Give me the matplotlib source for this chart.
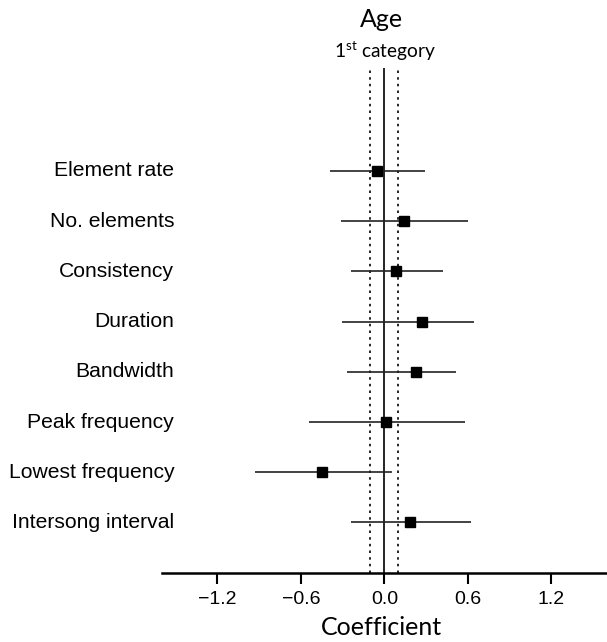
import numpy as np
import matplotlib
matplotlib.use("Agg")
import matplotlib.pyplot as plt

# traits, top to bottom
traits = [
    "Element rate",
    "No. elements",
    "Consistency",
    "Duration",
    "Bandwidth",
    "Peak frequency",
    "Lowest frequency",
    "Intersong interval",
]
coef = [-0.055, 0.138, 0.081, 0.267, 0.224, 0.014, -0.45, 0.186]
ci_low = [-0.394, -0.315, -0.242, -0.306, -0.27, -0.545, -0.93, -0.24]
ci_high = [0.294, 0.60, 0.418, 0.647, 0.518, 0.58, 0.052, 0.62]
xticks = [-1.2, -0.6, 0.0, 0.6, 1.2]

plt.rcParams["mathtext.fontset"] = "custom"
plt.rcParams["mathtext.rm"] = "Lato"

fig = plt.figure(figsize=(6.07, 6.42), dpi=100)
ax = fig.add_axes([0.2664, 0.108, 0.7336, 0.786])

y = np.arange(len(traits), 0, -1)

# reference lines
ax.axvline(0, color="black", lw=1.2, zorder=1)
for v in (-0.1, 0.1):
    ax.axvline(v, color="black", lw=1.2, ls=(0, (1.5, 2.5)), zorder=1)

ax.hlines(y, ci_low, ci_high, color="#222222", lw=1.2, zorder=2)
ax.plot(coef, y, "s", color="black", ms=7.5, zorder=3)

for yy, name in zip(y, traits):
    ax.text(-1.51, yy, name, ha="right", va="center", fontsize=15.2,
            family="Liberation Sans")

ax.set_xlim(-1.6, 1.6)
ax.set_ylim(0, 10.05)
ax.set_yticks([])
for s in ("left", "right", "top"):
    ax.spines[s].set_visible(False)
ax.spines["bottom"].set_linewidth(1.8)
ax.set_xticks(xticks, ["%.1f" % t if t >= 0 else "\u2212%.1f" % -t for t in xticks])
ax.tick_params(axis="x", length=8, width=1.5, pad=5, labelsize=14)
for lab in ax.get_xticklabels():
    lab.set_family("Liberation Sans")

fig.text(0.629, 0.958, "Age", ha="center", va="baseline", fontsize=18, family="Lato")
fig.text(0.634, 0.910, r"1$^{\mathrm{st}}$ category", ha="center", va="baseline",
         fontsize=13.8, family="Lato")
fig.text(0.628, 0.011, "Coefficient", ha="center", va="baseline", fontsize=18,
         family="Lato")

fig.savefig("out.png", dpi=100)
